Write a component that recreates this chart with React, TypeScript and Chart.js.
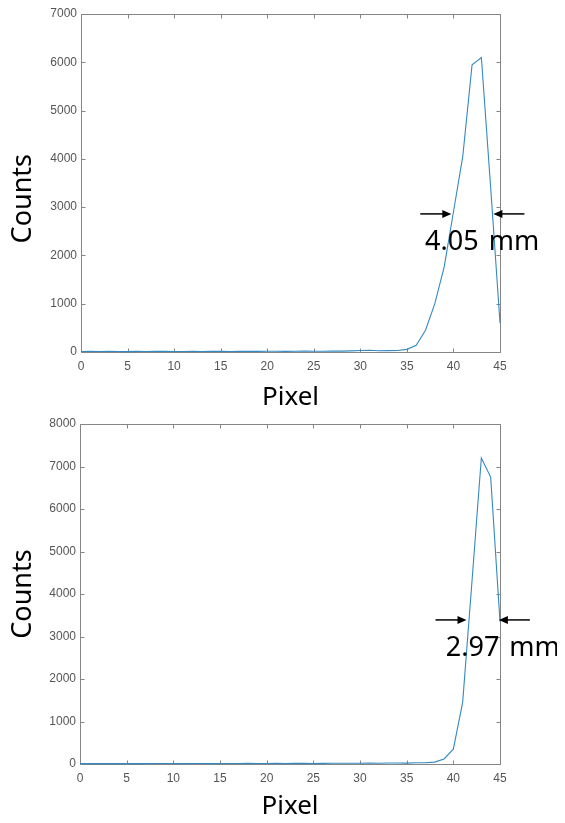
import React, { useEffect, useRef } from "react";
import { Chart, registerables } from "chart.js";

Chart.register(...registerables);

// ---------- data ----------
const pixelIndex = [
  0, 1, 2, 3, 4, 5, 6, 7, 8, 9, 10, 11, 12, 13, 14, 15, 16, 17, 18, 19, 20, 21, 22,
  23, 24, 25, 26, 27, 28, 29, 30, 31, 32, 33, 34, 35, 36, 37, 38, 39, 40, 41, 42, 43,
  44, 45,
];

const countsTop = [
  10, 12, 9, 14, 11, 8, 13, 10, 12, 15, 11, 9, 13, 10, 12, 14, 11, 13, 15, 12, 14, 16,
  13, 15, 18, 14, 17, 20, 18, 24, 30, 36, 26, 28, 32, 55, 140, 450, 1000, 1760, 2900,
  4050, 5950, 6100, 3400, 600,
];

const countsBottom = [
  9, 11, 8, 12, 10, 9, 12, 10, 11, 13, 10, 9, 12, 11, 10, 13, 12, 11, 14, 12, 13, 15,
  12, 14, 16, 13, 15, 17, 16, 18, 18, 20, 16, 22, 25, 20, 28, 30, 45, 120, 350, 1450,
  4300, 7200, 6750, 3350,
];

const xTicks = { min: 0, max: 45, step: 5 };
const yMaxes = [7000, 8000];
const yStep = 1000;

// FWHM annotation (data units)
const fwhmLevel = [2860, 3390];
const fwhmLeft = [39.77, 41.41];
const fwhmRight = [44.29, 44.88];
const fwhmLabelX = [43.08, 45.3];
const fwhmLabels = ["4.05 mm", "2.97 mm"];
const countsTitleAt = [3175, 4000];

const xTitle = "Pixel";
const yTitle = "Counts";

// ---------- styles ----------
const LINE_COLOR = "#3489c0";
const AXIS_COLOR = "#858585";
const TICK_COLOR = "#555555";
const TICK_FONT = { family: "'Liberation Sans', Arial, sans-serif", size: 12, lineHeight: 1.2 };
const TITLE_FAMILY = "'Noto Sans', 'Open Sans', sans-serif";

const CANVAS_W = 557;

const panels = [
  { top: 0, height: 404, padTop: 6, padRight: 65, yWidth: 73, xHeight: 60, titlePad: 1 },
  { top: 404, height: 411, padTop: 12, padRight: 65, yWidth: 72, xHeight: 59, titlePad: 3 },
];

const boxTicksPlugin = {
  id: "boxTicks",
  beforeDatasetsDraw(chart: any) {
    const { ctx, chartArea: a, scales } = chart;
    const L = Math.round(a.left) + 0.5;
    const R = Math.round(a.right) + 0.5;
    const T = Math.round(a.top) + 0.5;
    const B = Math.round(a.bottom) + 0.5;
    const len = 4;
    ctx.save();
    ctx.strokeStyle = AXIS_COLOR;
    ctx.lineWidth = 1;
    ctx.beginPath();
    ctx.rect(L, T, R - L, B - T);
    scales.x.ticks.forEach((t: any) => {
      const px = Math.round(scales.x.getPixelForValue(t.value)) + 0.5;
      ctx.moveTo(px, B);
      ctx.lineTo(px, B - len);
      ctx.moveTo(px, T);
      ctx.lineTo(px, T + len);
    });
    scales.y.ticks.forEach((t: any) => {
      const py = Math.round(scales.y.getPixelForValue(t.value)) + 0.5;
      ctx.moveTo(L, py);
      ctx.lineTo(L + len, py);
      ctx.moveTo(R, py);
      ctx.lineTo(R - len, py);
    });
    ctx.stroke();
    ctx.restore();
  },
};

function drawArrow(ctx: CanvasRenderingContext2D, tipX: number, y: number, dir: number) {
  // dir = +1 : arrow points right (tail on the left); -1 : points left
  const tail = 31;
  const headLen = 9;
  const headHalf = 4;
  ctx.beginPath();
  ctx.moveTo(tipX - dir * tail, y);
  ctx.lineTo(tipX - dir * (headLen - 1), y);
  ctx.stroke();
  ctx.beginPath();
  ctx.moveTo(tipX, y);
  ctx.lineTo(tipX - dir * headLen, y - headHalf);
  ctx.lineTo(tipX - dir * headLen, y + headHalf);
  ctx.closePath();
  ctx.fill();
}

const annotPlugin = {
  id: "fwhmAnnot",
  afterDatasetsDraw(chart: any, _args: any, opts: any) {
    const { ctx, scales } = chart;
    const y = scales.y.getPixelForValue(opts.level);
    const xl = scales.x.getPixelForValue(opts.left);
    const xr = scales.x.getPixelForValue(opts.right);
    ctx.save();
    ctx.strokeStyle = "#000";
    ctx.fillStyle = "#000";
    ctx.lineWidth = 1.5;
    drawArrow(ctx, xl, y, 1);
    drawArrow(ctx, xr, y, -1);
    ctx.font = `27px ${TITLE_FAMILY}`;
    ctx.textAlign = "center";
    ctx.textBaseline = "middle";
    (ctx as any).wordSpacing = "3px";
    ctx.fillText(opts.label, scales.x.getPixelForValue(opts.labelX), y + 28);
    (ctx as any).wordSpacing = "0px";
    // y-axis title
    ctx.font = `27px ${TITLE_FAMILY}`;
    ctx.translate(15, scales.y.getPixelForValue(opts.titleAt));
    ctx.rotate(-Math.PI / 2);
    ctx.fillText(opts.yTitle, 0, 0);
    ctx.restore();
  },
};

function makeChart(canvas: HTMLCanvasElement, i: number) {
  const counts = i === 0 ? countsTop : countsBottom;
  const p = panels[i];
  return new Chart(canvas, {
    type: "line",
    data: {
      datasets: [
        {
          data: pixelIndex.map((x, k) => ({ x, y: counts[k] })),
          borderColor: LINE_COLOR,
          borderWidth: 1.1,
          pointRadius: 0,
          tension: 0,
          fill: false,
          clip: false,
        } as any,
      ],
    },
    options: {
      animation: false,
      responsive: false,
      maintainAspectRatio: false,
      layout: { padding: { top: p.padTop, right: p.padRight, left: 0, bottom: 0 } },
      plugins: {
        legend: { display: false },
        tooltip: { enabled: false },
        fwhmAnnot: {
          level: fwhmLevel[i],
          left: fwhmLeft[i],
          right: fwhmRight[i],
          labelX: fwhmLabelX[i],
          label: fwhmLabels[i],
          titleAt: countsTitleAt[i],
          yTitle,
        },
      } as any,
      scales: {
        x: {
          type: "linear",
          min: xTicks.min,
          max: xTicks.max,
          ticks: {
            stepSize: xTicks.step,
            padding: 7,
            color: TICK_COLOR,
            font: TICK_FONT,
            maxRotation: 0,
            callback: (v: any) => String(v),
          },
          grid: { display: false, drawTicks: false },
          border: { display: false },
          title: {
            display: true,
            text: xTitle,
            color: "#000",
            font: { family: TITLE_FAMILY, size: 26, lineHeight: 1 },
            padding: { top: 0, bottom: p.titlePad },
          },
          afterFit: (s: any) => {
            s.height = p.xHeight;
            s.paddingLeft = 0;
            s.paddingRight = 0;
          },
        },
        y: {
          type: "linear",
          min: 0,
          max: yMaxes[i],
          ticks: {
            stepSize: yStep,
            padding: 4,
            color: TICK_COLOR,
            font: TICK_FONT,
            callback: (v: any) => String(v),
          },
          grid: { display: false, drawTicks: false },
          border: { display: false },
          afterFit: (s: any) => {
            s.width = p.yWidth;
            s.paddingTop = 0;
            s.paddingBottom = 0;
          },
        },
      },
    },
    plugins: [boxTicksPlugin, annotPlugin],
  });
}

export default function App() {
  const ref0 = useRef<HTMLCanvasElement>(null);
  const ref1 = useRef<HTMLCanvasElement>(null);

  useEffect(() => {
    const charts: Chart[] = [];
    if (ref0.current) charts.push(makeChart(ref0.current, 0));
    if (ref1.current) charts.push(makeChart(ref1.current, 1));
    return () => charts.forEach((c) => c.destroy());
  }, []);

  return (
    <div style={{ position: "relative", width: CANVAS_W, height: 807, overflow: "hidden", background: "#fff" }}>
      {[ref0, ref1].map((r, i) => (
        <canvas
          key={i}
          ref={r}
          width={CANVAS_W}
          height={panels[i].height}
          style={{
            position: "absolute",
            left: 0,
            top: panels[i].top,
            width: CANVAS_W,
            height: panels[i].height,
            display: "block",
          }}
        />
      ))}
    </div>
  );
}
